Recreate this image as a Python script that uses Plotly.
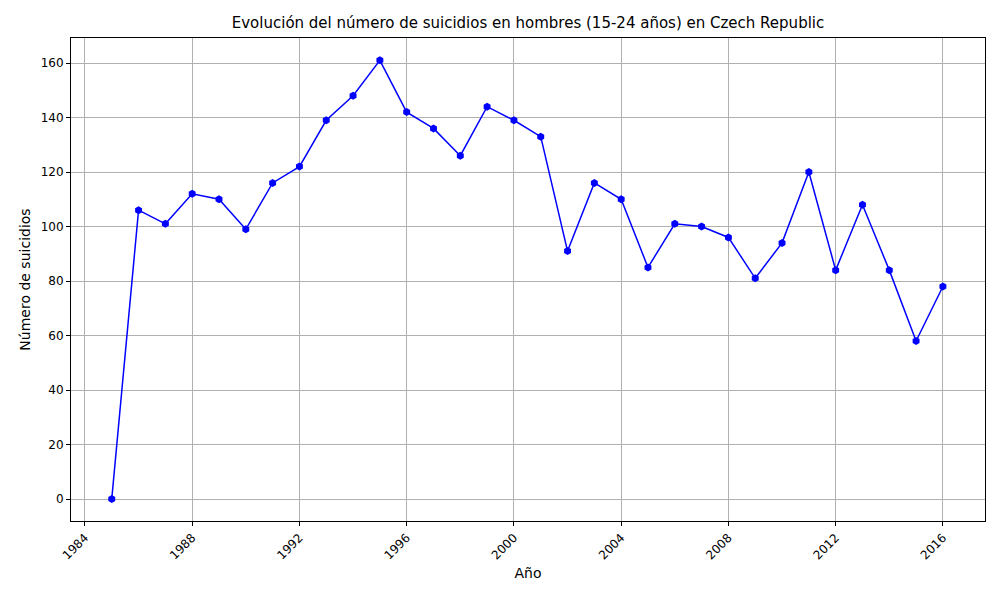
import plotly.graph_objects as go

years = list(range(1985, 2017))
suicides = [0, 106, 101, 112, 110, 99, 116, 122, 139, 148, 161, 142, 136, 126, 144, 139,
            133, 91, 116, 110, 85, 101, 100, 96, 81, 94, 120, 84, 108, 84, 58, 78]
xticks = list(range(1984, 2017, 4))

fig = go.Figure()
fig.add_trace(go.Scatter(
    x=years, y=suicides, mode="lines+markers",
    line=dict(color="blue", width=1.5),
    marker=dict(symbol="hexagon", size=8, color="blue"),
))

axis_common = dict(showgrid=True, gridcolor="#b0b0b0", gridwidth=1,
                   showline=True, linecolor="black", mirror=True,
                   ticks="outside", ticklen=4, tickcolor="black", zeroline=False)

fig.update_layout(
    width=1000, height=600,
    plot_bgcolor="white", paper_bgcolor="white",
    font=dict(family="DejaVu Sans", size=12, color="black"),
    title=dict(text="Evolución del número de suicidios en hombres (15-24 años) en Czech Republic",
               x=0.52, xanchor="center", y=0.985, font=dict(size=15)),
    margin=dict(l=63, r=23, t=30, b=87),
    showlegend=False,
    xaxis=dict(axis_common, range=[1983.48, 2017.57], tickvals=xticks, tickangle=-45,
               title=dict(text="Año", standoff=6)),
    yaxis=dict(axis_common, range=[-8.07, 169.2], tickvals=list(range(0, 161, 20)),
               title=dict(text="Número de suicidios", standoff=6)),
)

fig.write_html("out.html")
